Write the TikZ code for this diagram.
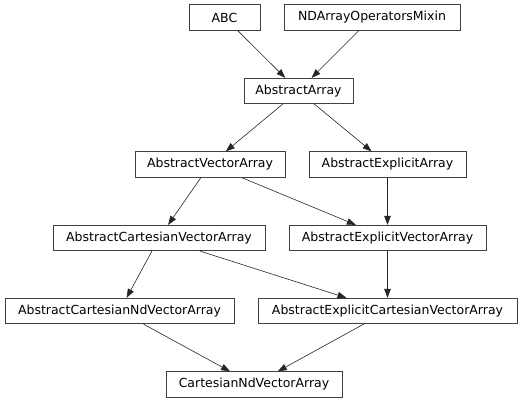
\documentclass[tikz,border=0pt]{standalone}
\usepackage{fontspec}
\setmainfont{DejaVu Sans}
\usetikzlibrary{arrows.meta}
\begin{document}
\begin{tikzpicture}[x=1pt,y=-1pt,
  cls/.style={draw=black!75,line width=0.7pt,fill=white,inner sep=0pt,minimum height=25.5pt,
    font=\fontsize{12.5}{15}\selectfont},
  inh/.style={draw=black!85,line width=0.6pt,-{Triangle[length=9pt,width=6.5pt]}}]
\useasboundingbox (0,0) rectangle (530,403);
\node[cls,minimum width=71pt]  (abc)   at (224.5,17.5) {ABC};
\node[cls,minimum width=176pt] (nd)    at (372,17.5)   {NDArrayOperatorsMixin};
\node[cls,minimum width=109pt] (aa)    at (298.5,91)   {AbstractArray};
\node[cls,minimum width=150pt] (ava)   at (210,164.5)  {AbstractVectorArray};
\node[cls,minimum width=157pt] (aea)   at (387.5,164.5){AbstractExplicitArray};
\node[cls,minimum width=212pt] (acva)  at (159,238)    {AbstractCartesianVectorArray};
\node[cls,minimum width=197pt] (aeva)  at (387.5,238)  {AbstractExplicitVectorArray};
\node[cls,minimum width=229pt] (acnva) at (119.5,311)  {AbstractCartesianNdVectorArray};
\node[cls,minimum width=259pt] (aecva) at (387.5,311)  {AbstractExplicitCartesianVectorArray};
\node[cls,minimum width=176pt] (cnva)  at (254,384.5)  {CartesianNdVectorArray};
\draw[inh] (abc) -- (aa);
\draw[inh] (nd) -- (aa);
\draw[inh] (aa) -- (ava);
\draw[inh] (aa) -- (aea);
\draw[inh] (ava) -- (acva);
\draw[inh] (ava) -- (aeva);
\draw[inh] (aea) -- (aeva);
\draw[inh] (acva) -- (acnva);
\draw[inh] (acva) -- (aecva);
\draw[inh] (aeva) -- (aecva);
\draw[inh] (acnva) -- (cnva);
\draw[inh] (aecva) -- (cnva);
\end{tikzpicture}
\end{document}
